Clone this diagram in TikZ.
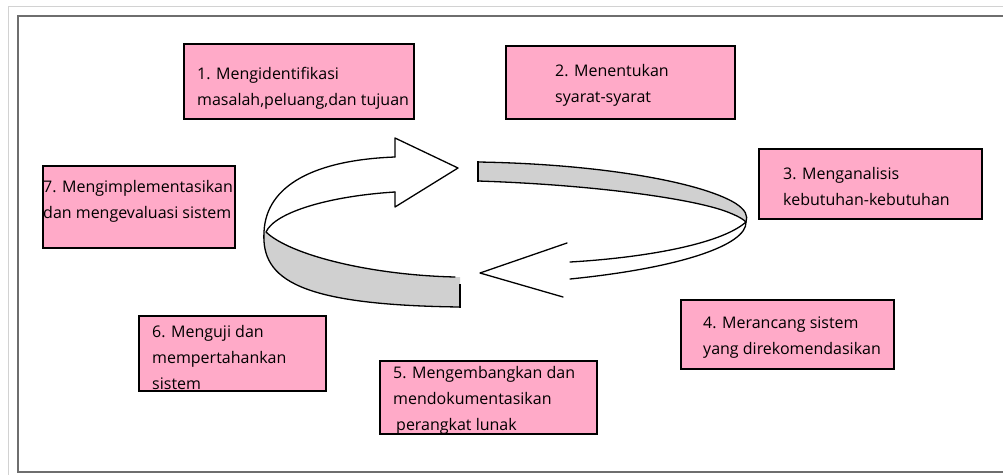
\documentclass[tikz,border=0pt]{standalone}
\usepackage{fontspec}
\setmainfont{Open Sans}
\definecolor{boxpink}{RGB}{255,170,200}
\definecolor{bandgray}{RGB}{208,208,208}
\definecolor{framegray}{RGB}{110,110,110}
\definecolor{pagegray}{RGB}{210,210,210}
\begin{document}
\begin{tikzpicture}[x=1pt,y=-1pt,
  stagebox/.style={draw=black, line width=2.4pt, fill=boxpink, inner sep=0pt},
  stagetext/.style={anchor=west, align=left, inner sep=0pt, font=\fontsize{16}{26}\selectfont},
  ribbon/.style={draw=black, line width=1.3pt, line join=round, line cap=round},
  bandcap/.style={draw=black, line width=2pt}]
\useasboundingbox (0,0) rectangle (1003,474);
\clip (0,0) rectangle (1003,474);
\fill[white] (0,0) rectangle (1003,474);
% page frame
\draw[pagegray, line width=0.8pt] (8,6) rectangle (1030,490);
\draw[framegray, line width=1.8pt] (18,16) rectangle (1030,472);

% stage boxes
\node[stagebox, minimum width=230pt, minimum height=75pt] (b1) at (299,81.5) {};
\node[stagebox, minimum width=229pt, minimum height=73pt] (b2) at (620.5,82.5) {};
\node[stagebox, minimum width=223pt, minimum height=70pt] (b3) at (870.5,184) {};
\node[stagebox, minimum width=213pt, minimum height=69pt] (b4) at (787.5,334.5) {};
\node[stagebox, minimum width=217pt, minimum height=73pt] (b5) at (488.5,397.5) {};
\node[stagebox, minimum width=187pt, minimum height=75pt] (b6) at (232.5,353.5) {};
\node[stagebox, minimum width=192pt, minimum height=82pt] (b7) at (139,207) {};

% stage texts
\node[stagetext] (t1) at (197,88) {1. Mengidentifikasi\\masalah,peluang,dan tujuan};
\node[stagetext] (t2) at (555,85) {2. Menentukan\\syarat-syarat};
\node[stagetext] (t3) at (783,186) {3. Menganalisis\\kebutuhan-kebutuhan};
\node[stagetext] (t4) at (703,338) {4. Merancang sistem\\yang direkomendasikan};
\node[stagetext] (t5) at (393,400) {5. Mengembangkan dan\\mendokumentasikan\\\hspace*{3pt}perangkat lunak};
\node[stagetext] (t6) at (152,357) {6. Menguji dan\\mempertahankan\\sistem};
\node[stagetext] (t7) at (43,201) {7. Mengimplementasikan\\dan mengevaluasi sistem};

% circular ribbon arrow: left half
\coordinate (lj) at (264,232);
\fill[bandgray] (266,232) .. controls (290,255) and (370,275) .. (455,277) -- (460,277) -- (460,307)
  .. controls (300,305) and (261,280) .. (lj) -- cycle;
\draw[ribbon] (395,157) .. controls (315,160) and (266,185) .. (lj)
  .. controls (261,280) and (300,305) .. (460,307);
\draw[ribbon] (395,192) .. controls (330,196) and (275,212) .. (266,232)
  .. controls (290,255) and (370,275) .. (455,277);
\draw[bandcap] (460,284) -- (460,308);
\draw[ribbon] (395,157) -- (395,138) -- (458,168) -- (395,207) -- (395,192);

% circular ribbon arrow: right half
\coordinate (re) at (746,222);
\fill[bandgray] (478,162) .. controls (600,164) and (700,182) .. (735,203)
  .. controls (746,210) and (748,216) .. (re)
  .. controls (744,220) and (740,217) .. (730,213)
  .. controls (700,200) and (600,185) .. (478,181) -- cycle;
\draw[ribbon] (478,162) .. controls (600,164) and (700,182) .. (735,203)
  .. controls (746,210) and (748,216) .. (re)
  .. controls (747,245) and (680,268) .. (570,279);
\draw[ribbon] (478,181) .. controls (600,185) and (700,200) .. (730,213)
  .. controls (740,217) and (744,220) .. (re)
  .. controls (720,245) and (640,258) .. (570,262);
\draw[bandcap] (478,161) -- (478,182);
\draw[ribbon] (567,243) -- (480,273) -- (563,297);
\end{tikzpicture}
\end{document}
